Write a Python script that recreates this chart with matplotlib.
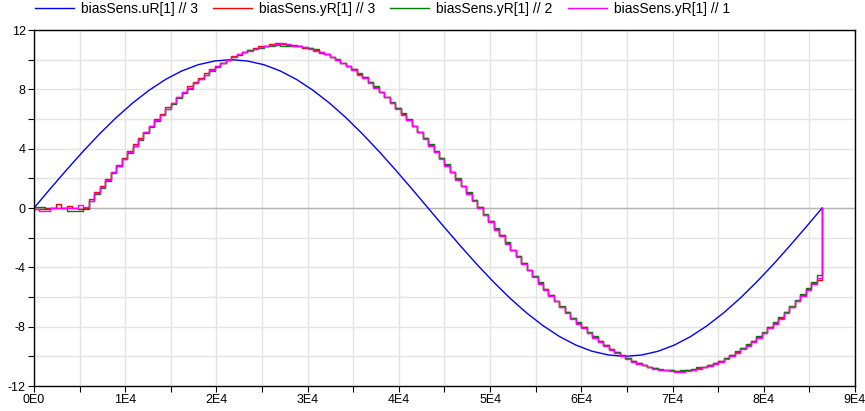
import numpy as np
import matplotlib.pyplot as plt
from matplotlib.ticker import MultipleLocator, FuncFormatter

plt.rcParams['font.family'] = ['Liberation Sans', 'DejaVu Sans']

# input signal, sampled every 1800 s
u_period = 1800
uR = [0, 1.31, 2.59, 3.83, 5.0, 6.09, 7.07, 7.93, 8.66, 9.24, 9.66, 9.91, 10.0,
      9.91, 9.66, 9.24, 8.66, 7.93, 7.07, 6.09, 5.0, 3.83, 2.59, 1.31, 0,
      -1.31, -2.59, -3.83, -5.0, -6.09, -7.07, -7.93, -8.66, -9.24, -9.66, -9.91, -10.0,
      -9.91, -9.66, -9.24, -8.66, -7.93, -7.07, -6.09, -5.0, -3.83, -2.59, -1.31, 0]

# sampled outputs, held for 600 s each
y_period = 600
yR3 = [-0.1, -0.1, 0.0, 0.0, 0.25, 0.0, 0.15, 0.0, -0.1,
       0.0, 0.6, 1.05, 1.5, 1.95, 2.45, 2.9, 3.4, 3.85, 4.3, 4.7, 5.15, 5.55, 6.0, 6.35, 6.8,
       7.1, 7.5, 7.85, 8.2, 8.5, 8.75, 9.1, 9.35, 9.6, 9.8, 10.0, 10.25, 10.4, 10.5, 10.65,
       10.8, 10.9, 10.9, 11.05, 11.15, 11.05,
       11.0, 11.0, 10.95, 10.8, 10.8, 10.65, 10.45, 10.4, 10.2, 10.0, 9.8, 9.6, 9.35, 9.05,
       8.8, 8.5, 8.15, 7.85, 7.5, 7.1, 6.75, 6.35, 5.95, 5.55, 5.15, 4.7, 4.25, 3.8, 3.35,
       2.9, 2.45, 1.95, 1.5, 1.0, 0.55, 0.05,
       -0.45, -0.9, -1.4, -1.85, -2.35, -2.8, -3.25, -3.7, -4.15, -4.6, -5.05, -5.45, -5.85,
       -6.25, -6.65, -7.0, -7.4, -7.75, -8.05, -8.4, -8.7, -8.95, -9.25, -9.5, -9.7, -9.9,
       -10.1, -10.3, -10.45, -10.6, -10.7, -10.8, -10.9, -10.95, -10.95, -11.0,
       -11.0, -10.95, -10.9, -10.8, -10.7, -10.6, -10.45, -10.3, -10.1, -9.9, -9.7, -9.45,
       -9.25, -8.95, -8.7, -8.4, -8.05, -7.75, -7.4, -7.0, -6.65, -6.25, -5.85, -5.45,
       -5.05, -4.85, 0.0]
yR2 = [0.05, 0.05, -0.05, 0.0, 0.0, 0.0, -0.2, -0.2, -0.2,
       -0.05, 0.45, 0.95, 1.35, 1.85, 2.35, 2.8, 3.3, 3.7, 4.15, 4.6, 5.05, 5.45, 5.85, 6.25,
       6.65, 7.0, 7.4, 7.75, 8.05, 8.4, 8.7, 8.95, 9.25, 9.5, 9.75, 9.95, 10.15, 10.3, 10.5,
       10.65, 10.75, 10.8, 10.9, 10.95, 11.0, 10.95,
       10.95, 10.9, 10.9, 10.85, 10.8, 10.7, 10.55, 10.4, 10.2, 10.05, 9.8, 9.6, 9.35, 9.1,
       8.8, 8.5, 8.2, 7.85, 7.5, 7.15, 6.75, 6.4, 6.0, 5.55, 5.15, 4.75, 4.3, 3.85, 3.35,
       2.95, 2.45, 2.0, 1.5, 1.05, 0.55, 0.1,
       -0.4, -0.9, -1.35, -1.85, -2.3, -2.8, -3.25, -3.7, -4.15, -4.6, -5.0, -5.45, -5.85,
       -6.25, -6.6, -7.0, -7.4, -7.7, -8.05, -8.35, -8.65, -8.95, -9.25, -9.5, -9.7, -9.9,
       -10.1, -10.3, -10.45, -10.55, -10.7, -10.8, -10.85, -10.9, -10.95, -11.0,
       -10.95, -10.95, -10.85, -10.75, -10.7, -10.55, -10.45, -10.3, -10.1, -9.9, -9.65,
       -9.45, -9.2, -8.95, -8.65, -8.35, -8.05, -7.7, -7.35, -7.0, -6.6, -6.2, -5.8, -5.4,
       -5.0, -4.5, 0.0]
yR1 = [-0.1, -0.2, -0.2, 0.0, 0.0, 0.0, 0.0, 0.0, 0.2,
       0.05, 0.5, 1.0, 1.4, 1.9, 2.4, 2.85, 3.3, 3.75, 4.2, 4.65, 5.1, 5.5, 5.9, 6.3, 6.7,
       7.05, 7.45, 7.8, 8.1, 8.45, 8.7, 9.0, 9.3, 9.55, 9.75, 9.95, 10.2, 10.35, 10.5, 10.6,
       10.75, 10.85, 10.95, 11.0, 11.05, 11.1,
       11.05, 10.95, 10.9, 10.85, 10.75, 10.6, 10.5, 10.35, 10.15, 9.95, 9.75, 9.55, 9.3, 9.0,
       8.75, 8.45, 8.1, 7.8, 7.45, 7.05, 6.7, 6.3, 5.9, 5.5, 5.1, 4.65, 4.2, 3.75, 3.3, 2.85,
       2.4, 1.9, 1.45, 0.95, 0.5, 0.0,
       -0.5, -0.95, -1.45, -1.9, -2.4, -2.85, -3.3, -3.75, -4.2, -4.65, -5.1, -5.5, -5.9,
       -6.3, -6.7, -7.05, -7.45, -7.8, -8.1, -8.45, -8.75, -9.0, -9.3, -9.55, -9.75, -9.95,
       -10.15, -10.35, -10.5, -10.6, -10.75, -10.85, -10.9, -10.95, -11.0, -11.05,
       -11.05, -11.0, -10.9, -10.85, -10.75, -10.65, -10.5, -10.35, -10.15, -9.95, -9.75,
       -9.5, -9.3, -9.0, -8.75, -8.45, -8.1, -7.8, -7.45, -7.05, -6.7, -6.3, -5.9, -5.5,
       -5.1, -4.7, 0.0]

t_u = u_period * np.arange(len(uR))
t_y = y_period * np.arange(len(yR1))

fig = plt.figure(figsize=(8.65, 4.11), dpi=100)
ax = fig.add_axes([0.0393, 0.0608, 0.9491, 0.8662])

ax.plot(t_u, uR, color='#0000ff', lw=1.0, label='biasSens.uR[1] // 3')
ax.plot(t_y, yR3, color='#ff0000', lw=1.0, drawstyle='steps-post', label='biasSens.yR[1] // 3')
ax.plot(t_y, yR2, color='#008000', lw=1.0, drawstyle='steps-post', label='biasSens.yR[1] // 2')
ax.plot(t_y, yR1, color='#ff00ff', lw=1.0, drawstyle='steps-post', label='biasSens.yR[1] // 1')

ax.set_xlim(0, 90000)
ax.set_ylim(-12, 12)
ax.xaxis.set_major_locator(MultipleLocator(10000))
ax.xaxis.set_minor_locator(MultipleLocator(5000))
ax.yaxis.set_major_locator(MultipleLocator(4))
ax.yaxis.set_minor_locator(MultipleLocator(2))
ax.xaxis.set_major_formatter(FuncFormatter(lambda v, p: '0E0' if v == 0 else '%dE4' % round(v / 1e4)))
ax.yaxis.set_major_formatter(FuncFormatter(lambda v, p: '%d' % v))

ax.grid(True, which='both', color='#e4e4e4', lw=1)
ax.axhline(0, color='#b4b4b4', lw=1, zorder=1)
ax.set_axisbelow(True)
ax.tick_params(which='both', direction='out', length=4, width=0.8, labelsize=9, pad=2)
for s in ax.spines.values():
    s.set_color('black')
    s.set_linewidth(1)

fig.legend(loc='upper left', bbox_to_anchor=(0.026, 1.025), ncol=4, frameon=False,
           fontsize=10, handlelength=2.8, columnspacing=1.1, handletextpad=0.5)

fig.savefig('out.png', dpi=100)
